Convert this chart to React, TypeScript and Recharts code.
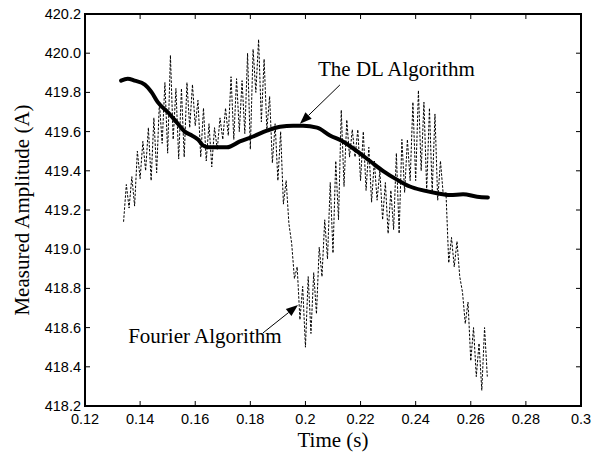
import { LineChart, Line, XAxis, YAxis, ReferenceArea, ReferenceDot, ReferenceLine } from 'recharts'

const xTicks = [0.12, 0.14, 0.16, 0.18, 0.2, 0.22, 0.24, 0.26, 0.28, 0.3]
const xTickLabels = ['0.12', '0.14', '0.16', '0.18', '0.2', '0.22', '0.24', '0.26', '0.28', '0.3']
const yTicks = [418.2, 418.4, 418.6, 418.8, 419.0, 419.2, 419.4, 419.6, 419.8, 420.0, 420.2]
const yTickLabels = ['418.2', '418.4', '418.6', '418.8', '419.0', '419.2', '419.4', '419.6', '419.8', '420.0', '420.2']

// DL algorithm estimate (smooth, thick)
const dlTime = [
  0.1331, 0.1355, 0.1380, 0.1417, 0.1442, 0.1464, 0.1500, 0.1537, 0.1562, 0.1588,
  0.1610, 0.1628, 0.1650, 0.1690, 0.1715, 0.1762, 0.1810, 0.1860, 0.1908, 0.1955,
  0.1991, 0.2042, 0.2089, 0.2136, 0.2187, 0.2234, 0.2281, 0.2332, 0.2379, 0.2427,
  0.2477, 0.2525, 0.2572, 0.2623, 0.2662,
]
const dlAmp = [
  419.86, 419.87, 419.86, 419.84, 419.80, 419.75, 419.70, 419.64, 419.60, 419.58,
  419.56, 419.53, 419.52, 419.52, 419.52, 419.55, 419.575, 419.605, 419.625, 419.63,
  419.63, 419.62, 419.58, 419.55, 419.50, 419.45, 419.40, 419.355, 419.32, 419.30,
  419.285, 419.276, 419.28, 419.268, 419.264,
]

// Fourier estimate, one sample per ms
const fourierStart = 0.134
const fourierStep = 0.001
const fourierAmp = [
  419.14, 419.33, 419.21, 419.37, 419.22, 419.50, 419.36, 419.55, 419.40, 419.62,
  419.35, 419.67, 419.39, 419.75, 419.54, 419.85, 419.49, 419.99, 419.56, 419.82,
  419.46, 419.82, 419.47, 419.85, 419.62, 419.84, 419.63, 419.76, 419.47, 419.72,
  419.45, 419.64, 419.42, 419.62, 419.51, 419.67, 419.56, 419.72, 419.58, 419.88,
  419.56, 419.87, 419.60, 419.86, 419.59, 420.00, 419.51, 420.02, 419.80, 420.07,
  419.65, 419.97, 419.61, 419.78, 419.44, 419.64, 419.35, 419.60, 419.23, 419.35,
  419.13, 419.03, 418.85, 418.91, 418.64, 418.81, 418.50, 418.86, 418.57, 418.88,
  418.67, 419.01, 418.86, 419.15, 418.95, 419.34, 418.98, 419.45, 419.15, 419.71,
  419.32, 419.66, 419.47, 419.61, 419.47, 419.61, 419.35, 419.60, 419.30, 419.52,
  419.24, 419.45, 419.25, 419.40, 419.15, 419.34, 419.08, 419.30, 419.10, 419.49,
  419.08, 419.56, 419.29, 419.56, 419.35, 419.75, 419.35, 419.81, 419.40, 419.75,
  419.30, 419.72, 419.29, 419.69, 419.25, 419.45, 419.28, 419.29, 418.93, 419.06,
  418.91, 419.04, 418.86, 418.78, 418.62, 418.73, 418.43, 418.60, 418.35, 418.52,
  418.28, 418.60, 418.35,
]

const dlData = dlTime.map((t, i) => ({ t, v: dlAmp[i] }))
const fourierData = fourierAmp.map((v, i) => ({ t: +(fourierStart + i * fourierStep).toFixed(4), v }))

const W = 601
const H = 459
const PL = 85
const PR = 581
const PT = 14
const PB = 406
const TICK = 5
const tickFont = { fontFamily: '"Liberation Sans", Arial, sans-serif', fontSize: 14.5, fill: '#000' }
const titleFont = { fontFamily: '"Liberation Serif", "Times New Roman", serif', fontSize: 21, fill: '#000' }

function XTick({ x, payload }: any) {
  const i = xTicks.indexOf(payload.value)
  return (
    <g>
      <line x1={x} x2={x} y1={PB} y2={PB - TICK} stroke="#000" strokeWidth={1} />
      <line x1={x} x2={x} y1={PT} y2={PT + TICK} stroke="#000" strokeWidth={1} />
      <text x={x} y={PB + 18} textAnchor="middle" {...tickFont}>{i >= 0 ? xTickLabels[i] : payload.value}</text>
    </g>
  )
}

function YTick({ y, payload }: any) {
  const i = yTicks.indexOf(payload.value)
  return (
    <g>
      <line x1={PL} x2={PL + TICK} y1={y} y2={y} stroke="#000" strokeWidth={1} />
      <line x1={PR} x2={PR - TICK} y1={y} y2={y} stroke="#000" strokeWidth={1} />
      <text x={PL - 4} y={y + 5} textAnchor="end" {...tickFont}>{i >= 0 ? yTickLabels[i] : payload.value}</text>
    </g>
  )
}

function XTitle() {
  return <text x={(PL + PR) / 2} y={447} textAnchor="middle" {...titleFont}>Time (s)</text>
}

function YTitle() {
  const cx = 29
  const cy = (PT + PB) / 2
  return (
    <text x={cx} y={cy} transform={`rotate(-90 ${cx} ${cy})`} textAnchor="middle" {...titleFont}>
      Measured Amplitude (A)
    </text>
  )
}

function Arrow({ x1, y1, x2, y2 }: any) {
  const dx = x2 - x1
  const dy = y2 - y1
  const len = Math.hypot(dx, dy) || 1
  const ux = dx / len
  const uy = dy / len
  const hl = 12
  const hw = 4.5
  const bx = x2 - ux * hl
  const by = y2 - uy * hl
  return (
    <g>
      <line x1={x1} y1={y1} x2={bx} y2={by} stroke="#000" strokeWidth={1} />
      <polygon points={`${x2},${y2} ${bx - uy * hw},${by + ux * hw} ${bx + uy * hw},${by - ux * hw}`} fill="#000" />
    </g>
  )
}

function noteText(text: string) {
  return ({ cx, cy }: any) => (
    <text x={cx} y={cy} textAnchor="middle" {...titleFont}>{text}</text>
  )
}

export default function App() {
  return (
    <div style={{ position: 'absolute', left: 0, top: 0 }}>
      <LineChart width={W} height={H} margin={{ top: PT, right: W - PR, left: 0, bottom: 0 }}>
        <XAxis
          dataKey="t"
          type="number"
          domain={[0.12, 0.3]}
          ticks={xTicks}
          interval={0}
          height={H - PB}
          axisLine={false}
          tickLine={false}
          tick={<XTick />}
          allowDataOverflow
          label={<XTitle />}
        />
        <YAxis
          type="number"
          domain={[418.2, 420.2]}
          ticks={yTicks}
          interval={0}
          width={PL}
          axisLine={false}
          tickLine={false}
          tick={<YTick />}
          allowDataOverflow
          label={<YTitle />}
        />
        <ReferenceArea x1={0.12} x2={0.3} y1={418.2} y2={420.2} fill="none" stroke="#000" strokeWidth={2} />
        <Line
          data={fourierData}
          dataKey="v"
          type="linear"
          stroke="#000"
          strokeWidth={1}
          strokeDasharray="2.5 1.5"
          dot={false}
          activeDot={false}
          isAnimationActive={false}
        />
        <Line
          data={dlData}
          dataKey="v"
          type="monotone"
          stroke="#000"
          strokeWidth={4}
          strokeLinecap="round"
          dot={false}
          activeDot={false}
          isAnimationActive={false}
        />
        <ReferenceLine segment={[{ x: 0.2125, y: 419.838 }, { x: 0.198, y: 419.64 }]} shape={Arrow} />
        <ReferenceLine segment={[{ x: 0.1846, y: 418.573 }, { x: 0.1973, y: 418.715 }]} shape={Arrow} />
        <ReferenceDot x={0.233} y={419.886} r={0} shape={noteText('The DL Algorithm')} />
        <ReferenceDot x={0.1635} y={418.521} r={0} shape={noteText('Fourier Algorithm')} />
      </LineChart>
    </div>
  )
}
